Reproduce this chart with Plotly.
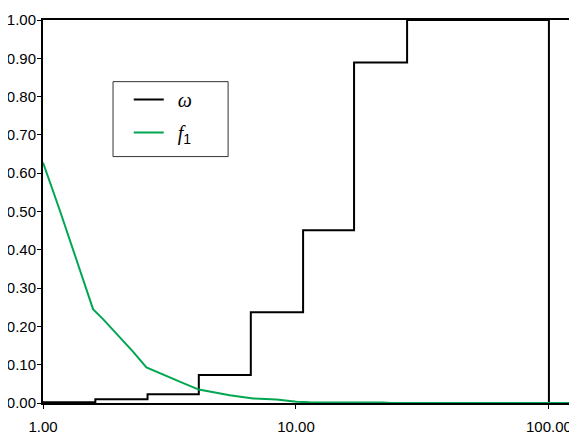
import plotly.graph_objects as go

# step function omega (horizontal-then-vertical steps)
omega_x = [1.0, 1.61, 2.59, 4.13, 6.63, 10.67, 16.97, 27.5, 100.0, 100.0]
omega_y = [0.002, 0.010, 0.023, 0.073, 0.237, 0.451, 0.889, 1.0, 1.0, 0.0]

# curve f1
f1_x = [1.0, 1.085, 1.164, 1.356, 1.577, 1.727, 1.887, 2.011, 2.264, 2.564, 3.076,
        3.527, 4.13, 4.494, 5.475, 6.77, 8.38, 10.05, 11.34, 22.06, 23.9, 129.0]
f1_y = [0.628, 0.563, 0.504, 0.374, 0.245, 0.219, 0.192, 0.170, 0.135, 0.093, 0.070,
        0.054, 0.035, 0.030, 0.020, 0.012, 0.009, 0.003, 0.002, 0.001, 0.0, 0.0]

x_tickvals = [1, 10, 100]
x_ticktext = ["1.00", "10.00", "100.00"]
y_tickvals = [0.0, 0.1, 0.2, 0.3, 0.4, 0.5, 0.6, 0.7, 0.8, 0.9, 1.0]

# page body has an 8px default margin; margins below compensate for it
OFF = 8
PL, PT, PR, PB = 43.3, 20.0, 577.0, 403.3   # target plot box in window pixels
W, H = 577, 437
pw, ph = PR - PL, PB - PT

fig = go.Figure()
fig.add_trace(go.Scatter(
    x=omega_x, y=omega_y, mode="lines", line_shape="hv",
    line=dict(color="black", width=2),
    name="\u00a0\u2009ω", legendgroup="a"))
fig.add_trace(go.Scatter(
    x=f1_x, y=f1_y, mode="lines",
    line=dict(color="#00a651", width=2),
    name="\u00a0\u2009f<sub><span style='font-family:Liberation Sans;font-style:normal'>1</span></sub>",
    legendgroup="b"))

fig.update_layout(
    width=W, height=H,
    margin=dict(l=PL - OFF, r=W - (PR - OFF), t=PT - OFF, b=H - (PB - OFF), autoexpand=False),
    paper_bgcolor="white", plot_bgcolor="white",
    font=dict(family="Liberation Sans", size=15, color="black"),
    showlegend=True,
    legend=dict(x=(129 - PL) / pw, y=(PB - 80) / ph, xanchor="left", yanchor="top",
                bgcolor="rgba(0,0,0,0)", borderwidth=0,
                tracegroupgap=4,
                font=dict(size=20, family="Liberation Serif", style="italic")),
    shapes=[dict(type="rect", xref="paper", yref="paper",
                 x0=(113.3 - PL) / pw, x1=(228.3 - PL) / pw,
                 y0=(PB - 156.7) / ph, y1=(PB - 81.7) / ph,
                 line=dict(color="#333333", width=1), fillcolor="rgba(0,0,0,0)",
                 layer="above")],
)
fig.update_xaxes(type="log", range=[0, 2.111], tickvals=x_tickvals, ticktext=x_ticktext,
                 showgrid=False, zeroline=False, showline=True, linewidth=2,
                 linecolor="black", mirror=True, ticks="outside", ticklen=4,
                 tickwidth=1, tickcolor="black", automargin=False,
                 ticklabelstandoff=5)
fig.update_yaxes(range=[0, 1], tickvals=y_tickvals, tickformat=".2f",
                 showgrid=False, zeroline=False, showline=True, linewidth=2,
                 linecolor="black", mirror=False, ticks="outside", ticklen=4,
                 tickwidth=1, tickcolor="black", automargin=False,
                 ticklabelstandoff=-2)

fig.write_html("out.html")
